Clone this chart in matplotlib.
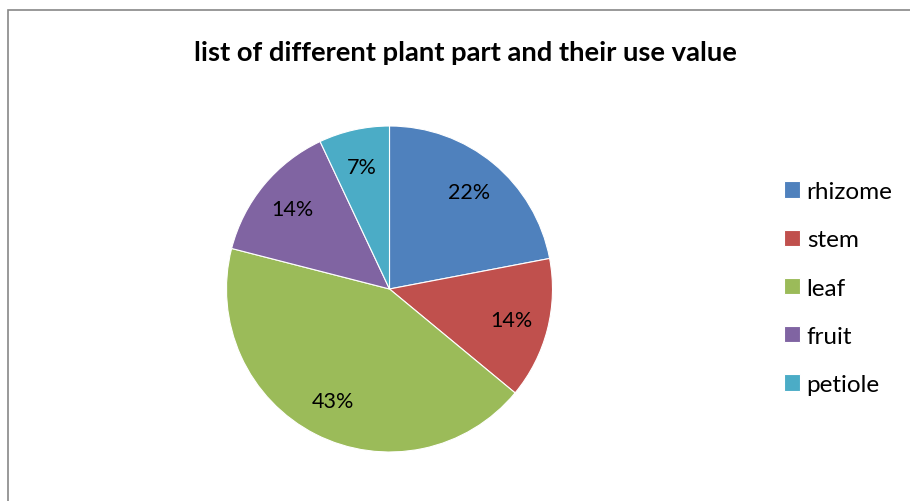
import matplotlib
matplotlib.use("Agg")
import matplotlib.pyplot as plt
from matplotlib.patches import Rectangle

categories = ["rhizome", "stem", "leaf", "fruit", "petiole"]
values = [22, 14, 43, 14, 7]
colors = ["#4F81BD", "#C0504D", "#9BBB59", "#8064A2", "#4BACC6"]
title = "list of different plant part and their use value"

plt.rcParams['font.family'] = ['Lato', 'DejaVu Sans']

W, H = 910, 502
fig = plt.figure(figsize=(W/100, H/100), dpi=100)

# chart border
fig.patches.append(Rectangle((8/W, -0.1), 1.2, (H-11)/H + 0.1, transform=fig.transFigure,
                             fill=False, edgecolor="#888888", linewidth=1.2))

cx, cy, r = 389.5, 290, 163
ax = fig.add_axes([(cx - r)/W, (H - cy - r)/H, 2*r/W, 2*r/H])
wedges, texts, autotexts = ax.pie(values, colors=colors, startangle=90, counterclock=False,
                                  autopct=lambda p: f"{p:.0f}%", pctdistance=0.77,
                                  radius=1.0, wedgeprops=dict(linewidth=0.8, edgecolor="white"),
                                  textprops=dict(fontsize=15.5, color="black"))
ax.set_xlim(-1, 1)
ax.set_ylim(-1, 1)
ax.set_aspect("auto")
ax.axis("off")

fig.text(465/W, 1 - 53/H, title, ha="center", va="center", fontsize=19.7, fontweight="bold")

leg = fig.legend(wedges, categories, loc="center left", bbox_to_anchor=(762/W, 1 - 289/H),
                 frameon=False, fontsize=17.5, handlelength=0.66, handleheight=0.66,
                 handletextpad=0.28, labelspacing=1.12)

fig.savefig("out.png", dpi=100)
